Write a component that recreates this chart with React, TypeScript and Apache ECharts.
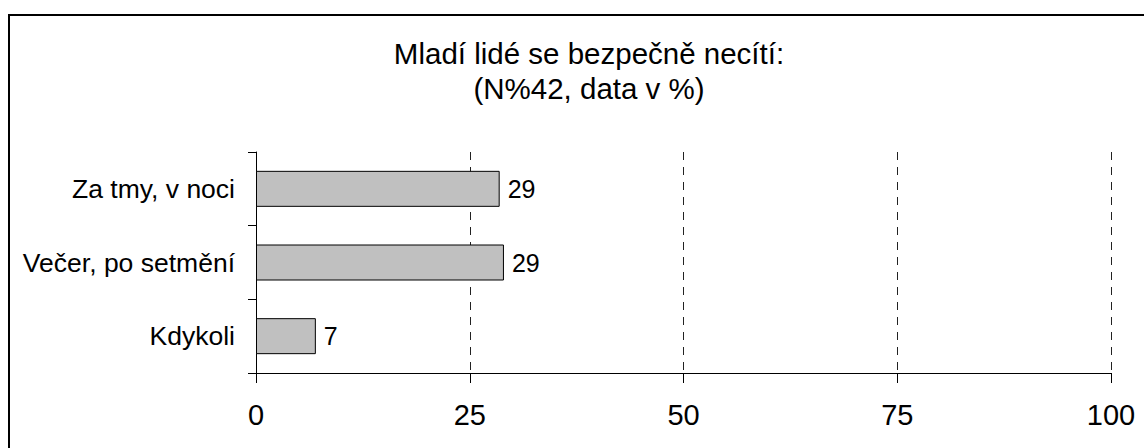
import React, { useEffect, useRef } from "react";
import * as echarts from "echarts";

const titleLines = ["Mladí lidé se bezpečně necítí:", "(N%42, data v %)"];
const categories = ["Za tmy, v noci", "Večer, po setmění", "Kdykoli"];
const values = [28.5, 29.0, 7.0];
const xTicks = [0, 25, 50, 75, 100];

const FONT = "'Liberation Sans', Arial, sans-serif";

export default function App() {
  const ref = useRef<HTMLDivElement>(null);
  useEffect(() => {
    if (!ref.current) return;
    const chart = echarts.init(ref.current, undefined, { renderer: "svg" });
    chart.setOption({
      animation: false,
      backgroundColor: "#ffffff",
      textStyle: { fontFamily: FONT },
      title: {
        text: titleLines.join("\n"),
        left: 584,
        top: 31,
        textAlign: "center",
        textStyle: {
          fontFamily: FONT,
          fontSize: 29.5,
          fontWeight: "normal",
          color: "#000",
          lineHeight: 35,
        },
      },
      graphic: [
        {
          type: "rect",
          shape: { x: 9, y: 15, width: 1300, height: 700 },
          style: { fill: "none", stroke: "#000", lineWidth: 2 },
          silent: true,
        },
      ],
      grid: { left: 256, right: 33, top: 152, bottom: 75, containLabel: false },
      xAxis: {
        type: "value",
        min: xTicks[0],
        max: xTicks[xTicks.length - 1],
        interval: 25,
        axisLine: { show: true, lineStyle: { color: "#000", width: 1 } },
        axisTick: { show: true, length: 10, lineStyle: { color: "#000" } },
        axisLabel: {
          margin: 27,
          fontSize: 29,
          color: "#000",
          fontFamily: FONT,
        },
        splitLine: {
          show: true,
          lineStyle: { color: "#222", width: 1, type: [8, 7] },
        },
      },
      yAxis: {
        type: "category",
        data: categories,
        inverse: true,
        axisLine: { show: true, lineStyle: { color: "#000", width: 1 } },
        axisTick: { show: true, length: 8, lineStyle: { color: "#000" } },
        axisLabel: {
          margin: 21,
          fontSize: 26.5,
          color: "#000",
          fontFamily: FONT,
        },
        splitLine: { show: false },
      },
      series: [
        {
          type: "bar",
          data: values,
          barWidth: 36,
          itemStyle: { color: "#c0c0c0", borderColor: "#000", borderWidth: 1 },
          label: {
            show: true,
            position: "right",
            distance: 8,
            fontSize: 25,
            color: "#000",
            fontFamily: FONT,
            formatter: (p: any) => String(Math.round(p.value)),
          },
        },
      ],
    });
    return () => chart.dispose();
  }, []);
  return (
    <div
      ref={ref}
      style={{ position: "absolute", left: 0, top: 0, width: 1144, height: 448 }}
    />
  );
}
